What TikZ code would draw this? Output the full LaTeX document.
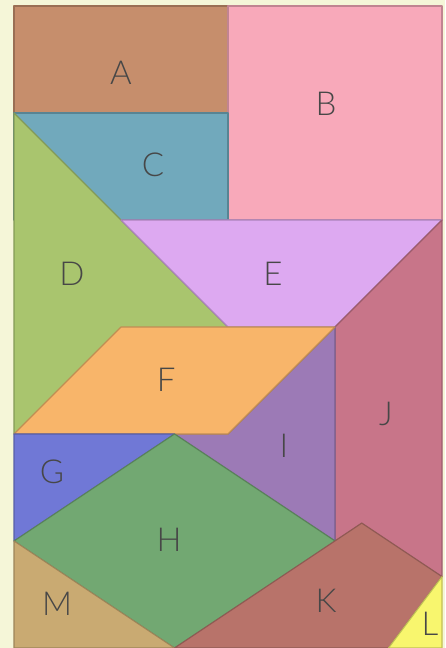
\documentclass[tikz,border=0pt]{standalone}
\usepackage{fontspec}
\setmainfont{Lato Light}
\definecolor{crema}{HTML}{F5F6D8}
\definecolor{canela}{HTML}{C68E6C}
\definecolor{rosa}{HTML}{F8A9BA}
\definecolor{petroleo}{HTML}{71A9BC}
\definecolor{pistacho}{HTML}{A9C56E}
\definecolor{lila}{HTML}{DDA9F1}
\definecolor{naranja}{HTML}{F8B56A}
\definecolor{anil}{HTML}{7078D6}
\definecolor{verde}{HTML}{72A872}
\definecolor{morado}{HTML}{9C7AB6}
\definecolor{frambuesa}{HTML}{C87589}
\definecolor{ladrillo}{HTML}{B8736A}
\definecolor{limon}{HTML}{F8F66E}
\definecolor{arena}{HTML}{C9AA72}

\begin{document}
\begin{tikzpicture}[x=107pt,y=-107pt,
    pieza/.style={fill=#1,draw=#1!78!black,line width=1.1pt,line join=round},
    letra/.style={text=black!72,font=\fontsize{33}{33}\selectfont,inner sep=0pt}]
  \fill[crema] (-0.131,-0.056) rectangle (4.028,6);
  \useasboundingbox (-0.131,-0.056) rectangle (4.028,6);
  % piezas del tablero
  \draw[pieza=canela] (0,0) rectangle (2,1);
  \draw[pieza=rosa] (2,0) rectangle (4,2);
  \draw[pieza=petroleo] (0,1) rectangle (2,2);
  \draw[pieza=pistacho] (0,1) -- (2,3) -- (0,4) -- cycle;
  \draw[pieza=lila] (1,2) -- (4,2) -- (3,3) -- (2,3) -- cycle;
  \draw[pieza=frambuesa] (4,2) -- (4,5.333) -- (3.25,4.833) -- (3,5) -- (3,3) -- cycle;
  \draw[pieza=morado] (3,3) -- (3,5) -- (1.5,4) -- (2,4) -- cycle;
  \draw[pieza=naranja] (1,3) -- (3,3) -- (2,4) -- (0,4) -- cycle;
  \draw[pieza=anil] (0,4) -- (1.5,4) -- (0,5) -- cycle;
  \draw[pieza=verde] (0,5) -- (1.5,4) -- (3,5) -- (1.5,6) -- cycle;
  \draw[pieza=arena] (0,5) -- (1.5,6) -- (0,6) -- cycle;
  \draw[pieza=ladrillo] (1.5,6) -- (3.25,4.833) -- (4,5.333) -- (3.5,6) -- cycle;
  \draw[pieza=limon] (4,5.333) -- (4,6) -- (3.5,6) -- cycle;
  % letras
  \node[letra] (a) at (1.0,0.624) {A};
  \node[letra] (b) at (2.916,0.916) {B};
  \node[letra] (c) at (1.299,1.486) {C};
  \node[letra] (d) at (0.542,2.505) {D};
  \node[letra] (e) at (2.42,2.505) {E};
  \node[letra] (f) at (1.421,3.495) {F};
  \node[letra] (g) at (0.355,4.355) {G};
  \node[letra] (h) at (1.449,4.991) {H};
  \node[letra] (i) at (2.523,4.112) {I};
  \node[letra] (j) at (3.477,3.813) {J};
  \node[letra] (k) at (2.916,5.561) {K};
  \node[letra] (l) at (3.888,5.776) {L};
  \node[letra] (m) at (0.402,5.589) {M};
\end{tikzpicture}
\end{document}
